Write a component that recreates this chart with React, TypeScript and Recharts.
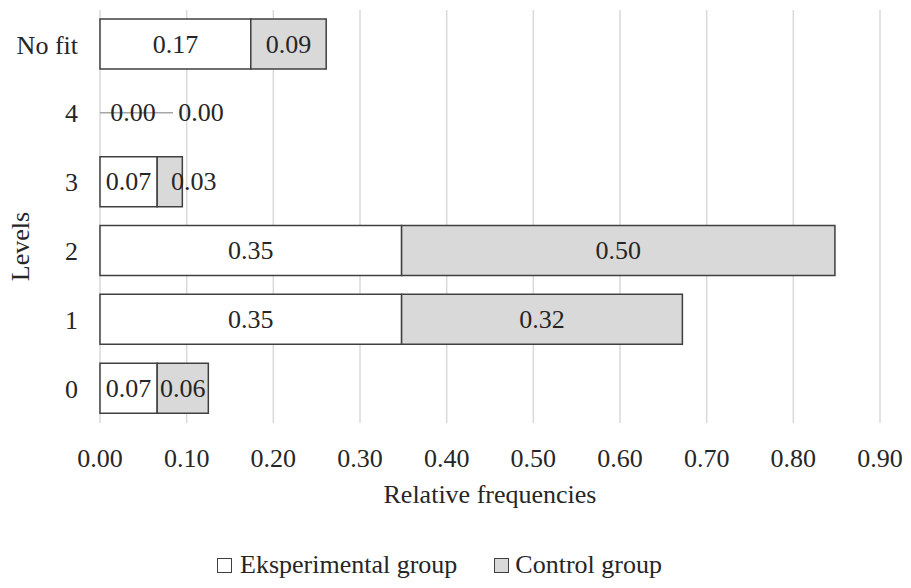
import React from 'react';
import { BarChart, Bar, XAxis, YAxis, CartesianGrid, Legend, LabelList, Label, Rectangle } from 'recharts';

const levels = ['No fit', '4', '3', '2', '1', '0'];
const experimental = [0.174, 0, 0.066, 0.348, 0.348, 0.066];
const control = [0.087, 0, 0.029, 0.5, 0.324, 0.059];
const xTicks = [0, 0.1, 0.2, 0.3, 0.4, 0.5, 0.6, 0.7, 0.8, 0.9];

const data = levels.map((level, i) => ({
  level,
  experimental: experimental[i],
  control: control[i],
}));

const FONT = '"Liberation Serif", "Times New Roman", serif';
const FS = 26;
const TEXT = '#262626';
const EDGE = '#404040';

const textProps = {
  fill: TEXT,
  fontFamily: FONT,
  fontSize: FS,
  textAnchor: 'middle' as const,
  dominantBaseline: 'central' as const,
};

// zero-valued segments: Excel draws a grey stub and shifts the labels to the right
const makeShape = (series: 'exp' | 'ctrl') => (props: any) => {
  const { x, y, width, height, value } = props;
  const v = Array.isArray(value) ? value[1] - value[0] : value;
  if (!width || !v) {
    const cy = Number(y) + Number(height) / 2;
    if (series === 'exp') {
      return (
        <g>
          <line x1={x} x2={x + 73} y1={cy} y2={cy} stroke="#a6a6a6" strokeWidth={1.5} />
          <text x={x + 33} y={cy} {...textProps}>{(0).toFixed(2)}</text>
        </g>
      );
    }
    return <text x={x + 101} y={cy} {...textProps}>{(0).toFixed(2)}</text>;
  }
  return <Rectangle {...props} />;
};

const renderLabel = (props: any) => {
  const { x, y, width, height, value } = props;
  if (!value) return null;
  const cy = Number(y) + Number(height) / 2;
  let cx = x + width / 2;
  if (width < 40) cx += 24;
  return <text x={cx} y={cy} {...textProps}>{Number(value).toFixed(2)}</text>;
};

const LegendBox = () => (
  <div
    style={{
      display: 'flex',
      alignItems: 'center',
      paddingLeft: 217,
      fontFamily: FONT,
      fontSize: FS,
      color: TEXT,
      lineHeight: '30px',
    }}
  >
    <span style={{ width: 13, height: 13, border: `1.5px solid ${EDGE}`, background: '#fff', marginRight: 8 }} />
    <span style={{ marginRight: 37 }}>Eksperimental group</span>
    <span style={{ width: 13, height: 13, border: `1.5px solid ${EDGE}`, background: '#d9d9d9', marginRight: 6 }} />
    <span>Control group</span>
  </div>
);

export default function App() {
  return (
    <div style={{ position: 'absolute', left: 0, top: 0, width: 911, height: 588, background: '#fff' }}>
      <BarChart
        width={911}
        height={588}
        data={data}
        layout="vertical"
        margin={{ top: 10, right: 31, left: 0, bottom: 45 }}
        barSize={50}
      >
        <CartesianGrid horizontal={false} stroke="#d9d9d9" strokeWidth={1.5} />
        <XAxis
          type="number"
          domain={[0, 0.9]}
          ticks={xTicks}
          tickFormatter={(v: number) => v.toFixed(2)}
          axisLine={false}
          tickLine={false}
          tickSize={0}
          tickMargin={26}
          height={90}
          tick={{ fill: TEXT, fontFamily: FONT, fontSize: FS }}
        >
          <Label
            content={({ viewBox }: any) => (
              <text x={viewBox.x + viewBox.width / 2} y={viewBox.y + 71} {...textProps}>
                Relative frequencies
              </text>
            )}
          />
        </XAxis>
        <YAxis
          type="category"
          dataKey="level"
          width={100}
          axisLine={false}
          tickLine={false}
          tickSize={0}
          tickMargin={22}
          tick={{ fill: TEXT, fontFamily: FONT, fontSize: FS }}
        >
          <Label
            content={({ viewBox }: any) => {
              const cx = 20;
              const cy = viewBox.y + viewBox.height / 2 + 30;
              return (
                <text x={cx} y={cy} transform={`rotate(-90, ${cx}, ${cy})`} {...textProps}>
                  Levels
                </text>
              );
            }}
          />
        </YAxis>
        <Legend content={<LegendBox />} wrapperStyle={{ left: 0, top: 550, width: 911 }} />
        <Bar
          dataKey="experimental"
          stackId="a"
          fill="#ffffff"
          stroke={EDGE}
          strokeWidth={1.5}
          shape={makeShape('exp')}
          isAnimationActive={false}
        >
          <LabelList dataKey="experimental" content={renderLabel} />
        </Bar>
        <Bar
          dataKey="control"
          stackId="a"
          fill="#d9d9d9"
          stroke={EDGE}
          strokeWidth={1.5}
          shape={makeShape('ctrl')}
          isAnimationActive={false}
        >
          <LabelList dataKey="control" content={renderLabel} />
        </Bar>
      </BarChart>
    </div>
  );
}
